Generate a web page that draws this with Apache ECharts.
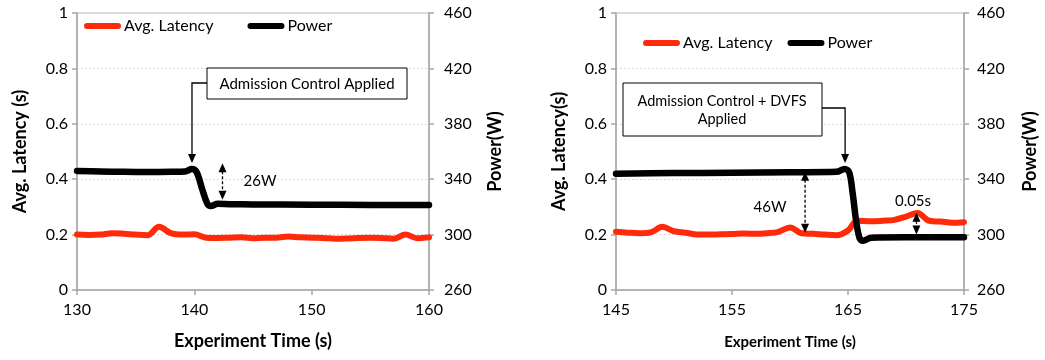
<!DOCTYPE html>
<html><head><meta charset="utf-8">
<script src="https://cdn.jsdelivr.net/npm/echarts@6/dist/echarts.min.js"></script>
<style>html,body{margin:0;padding:0;background:#fff}#c{width:1045px;height:360px}</style>
</head><body><div id="c"></div>
<script>
const FONT = 'Lato';
const seriesNames = ['Avg. Latency', 'Power'];
const latencyRange = [0, 1, 0.2];
const powerRange = [260, 460, 40];
const leftTimeRange = [130, 160, 10];
const rightTimeRange = [145, 175, 10];
const yTitles = ['Avg. Latency (s)', 'Power(W)', 'Avg. Latency(s)', 'Power(W)'];
const xTitle = 'Experiment Time (s)';

const leftLatency = [[130,0.200],[131,0.199],[132,0.200],[133,0.205],[134,0.203],[135,0.200],[136,0.198],[137,0.228],[138,0.205],[139,0.200],[140,0.201],[141,0.189],[142,0.188],[143,0.189],[144,0.190],[145,0.187],[146,0.189],[147,0.189],[148,0.193],[149,0.190],[150,0.189],[151,0.188],[152,0.185],[153,0.186],[154,0.188],[155,0.189],[156,0.188],[157,0.185],[158,0.200],[159,0.187],[160,0.190]];
const leftPower = [[130,346],[132,345.6],[134,345.3],[136,345.2],[138,345.3],[139.2,345.6],[139.8,347.3],[140.2,345],[140.7,332],[141.1,322.5],[141.4,320.6],[142,322.2],[143,322],[145,321.8],[150,321.6],[155,321.4],[160,321.3]];
const rightLatency = [[145,0.210],[146,0.207],[147,0.205],[148,0.208],[149,0.228],[150,0.212],[151,0.207],[152,0.200],[153,0.200],[154,0.201],[155,0.202],[156,0.204],[157,0.203],[158,0.205],[159,0.210],[160,0.226],[161,0.205],[162,0.203],[163,0.200],[164,0.198],[165,0.215],[165.8,0.250],[167,0.248],[168,0.250],[169,0.253],[170,0.265],[171,0.278],[172,0.250],[173,0.247],[174,0.243],[175,0.245]];
const rightPower = [[145,344],[150,344.4],[155,344.7],[160,345],[164,345.3],[164.7,347.4],[165.1,345],[165.4,330],[165.7,310],[166,297.5],[166.3,295.6],[167,297.8],[170,298],[175,298]];

const RED = '#ff2a0a', BLACK = '#000000', AXIS = '#a6a6a6';

function yAxis(grid, pos, range, name, gap, margin, split) {
  return {
    type: 'value', gridIndex: grid, position: pos, min: range[0], max: range[1], interval: range[2],
    name: name, nameLocation: 'middle', nameRotate: 90, nameGap: gap, nameMoveOverlap: false,
    nameTextStyle: {fontFamily: FONT, fontWeight: 'bold', fontSize: 18, color: '#000'},
    axisLine: {show: true, lineStyle: {color: AXIS, width: 1.5}},
    axisTick: {show: true, inside: false, length: 5, lineStyle: {color: AXIS, width: 1.5}},
    axisLabel: {margin: margin, fontFamily: FONT, fontSize: 16, color: '#000'},
    splitLine: {show: split, lineStyle: {color: '#d9d9d9', type: [2, 2], width: 1}}
  };
}
function xAxis(grid, range, gap, size) {
  return {
    type: 'value', gridIndex: grid, min: range[0], max: range[1], interval: range[2],
    name: xTitle, nameLocation: 'middle', nameGap: gap, nameMoveOverlap: false,
    nameTextStyle: {fontFamily: FONT, fontWeight: 'bold', fontSize: size, color: '#000'},
    axisLine: {show: true, onZero: false, lineStyle: {color: AXIS, width: 1.5}},
    axisTick: {show: true, length: 5, lineStyle: {color: AXIS, width: 1.5}},
    axisLabel: {margin: 12, fontFamily: FONT, fontSize: 16, color: '#000'},
    splitLine: {show: false}
  };
}
function line(name, data, xi, yi, color, width, z) {
  return {name: name, type: 'line', data: data, xAxisIndex: xi, yAxisIndex: yi, smooth: 0.35,
    showSymbol: false, symbol: 'none', z: z, lineStyle: {color: color, width: width, cap: 'round', join: 'round'},
    itemStyle: {color: color}, animation: false};
}
const capsule = 'path://M3,0 L34,0 A3,3 0 0 1 34,6 L3,6 A3,3 0 0 1 3,0 Z';
function legend(left, top, gap) {
  return {left: left, top: top, padding: 0, itemWidth: 37, itemHeight: 6, itemGap: gap, icon: capsule,
    textStyle: {fontFamily: FONT, fontSize: 16, color: '#000', padding: [0, 0, 0, -2]},
    data: seriesNames.map(n => ({name: n, icon: capsule})), selectedMode: false};
}

const chart = echarts.init(document.getElementById('c'), null, {renderer: 'canvas'});
chart.setOption({
  animation: false,
  backgroundColor: '#fff',
  color: [RED, BLACK],
  grid: [
    {left: 77, right: 1045 - 429, top: 13, bottom: 70, show: true, borderColor: '#b8b8b8', borderWidth: 1, backgroundColor: 'transparent'},
    {left: 616, right: 1045 - 964, top: 13, bottom: 70, show: true, borderColor: '#b8b8b8', borderWidth: 1, backgroundColor: 'transparent'}
  ],
  legend: [legend(84, 18, 34), legend(643, 35, 15)],
  xAxis: [xAxis(0, leftTimeRange, 42, 18), xAxis(1, rightTimeRange, 45, 15)],
  yAxis: [
    yAxis(0, 'left', latencyRange, yTitles[0], 48, 9, true),
    yAxis(0, 'right', powerRange, yTitles[1], 57, 15, false),
    yAxis(1, 'left', latencyRange, yTitles[2], 48, 9, true),
    yAxis(1, 'right', powerRange, yTitles[3], 57, 13, false)
  ],
  series: [
    line(seriesNames[0], leftLatency, 0, 0, RED, 6, 2),
    line(seriesNames[1], leftPower, 0, 1, BLACK, 6.5, 3),
    line(seriesNames[0], rightLatency, 1, 2, RED, 6, 2),
    line(seriesNames[1], rightPower, 1, 3, BLACK, 6.5, 3)
  ]
});

// annotations (anchored to data coordinates)
function px(xi, yi, pt) { return chart.convertToPixel({xAxisIndex: xi, yAxisIndex: yi}, pt); }
function head(x, y, dir) { // dir 1 = pointing down, -1 = up
  return {type: 'polygon', shape: {points: [[x, y], [x - 4, y - 9 * dir], [x + 4, y - 9 * dir]]}, style: {fill: '#000'}, z: 10};
}
function dblArrow(a, b) {
  const out = [];
  out.push({type: 'line', shape: {x1: a[0], y1: a[1] + 8, x2: b[0], y2: b[1] - 8}, style: {stroke: '#000', lineWidth: 1.3, lineDash: [3, 2]}, z: 10});
  out.push(head(a[0], a[1], -1));
  out.push(head(b[0], b[1], 1));
  return out;
}
function label(text, x, y, size) {
  return {type: 'text', x: x, y: y, style: {text: text, fontFamily: FONT, fontSize: size, fill: '#000', align: 'center', verticalAlign: 'middle', lineHeight: 18}, z: 11};
}
const g = [];
// left panel callout
const tipL = px(0, 1, [139.8, 351.7]);
g.push({type: 'rect', shape: {x: 207, y: 68, width: 200, height: 31}, style: {fill: '#fff', stroke: '#000', lineWidth: 1}, z: 9});
g.push(label('Admission Control Applied', 307, 84, 15));
g.push({type: 'polyline', shape: {points: [[207, 83], [tipL[0], 83], [tipL[0], tipL[1] - 8]]}, style: {stroke: '#000', lineWidth: 1.3, fill: null}, z: 10});
g.push(head(tipL[0], tipL[1], 1));
g.push(...dblArrow(px(0, 1, [142.4, 351.6]), px(0, 1, [142.4, 325.2])));
g.push(label('26W', 260, 181, 15));
// right panel callout
const tipR = px(1, 3, [164.75, 351.7]);
g.push({type: 'rect', shape: {x: 623, y: 83, width: 199, height: 53}, style: {fill: '#fff', stroke: '#000', lineWidth: 1}, z: 9});
g.push(label('Admission Control + DVFS\nApplied', 722, 110, 14.5));
g.push({type: 'polyline', shape: {points: [[822, 108], [tipR[0], 108], [tipR[0], tipR[1] - 8]]}, style: {stroke: '#000', lineWidth: 1.3, fill: null}, z: 10});
g.push(head(tipR[0], tipR[1], 1));
g.push(...dblArrow(px(1, 3, [161.3, 345.3]), px(1, 3, [161.3, 301.3])));
g.push(label('46W', 770, 207, 15));
g.push(...dblArrow(px(1, 2, [170.9, 0.279]), px(1, 2, [170.9, 0.2])));
g.push(label('0.05s', 913, 201, 15));
chart.setOption({graphic: g});
</script></body></html>
